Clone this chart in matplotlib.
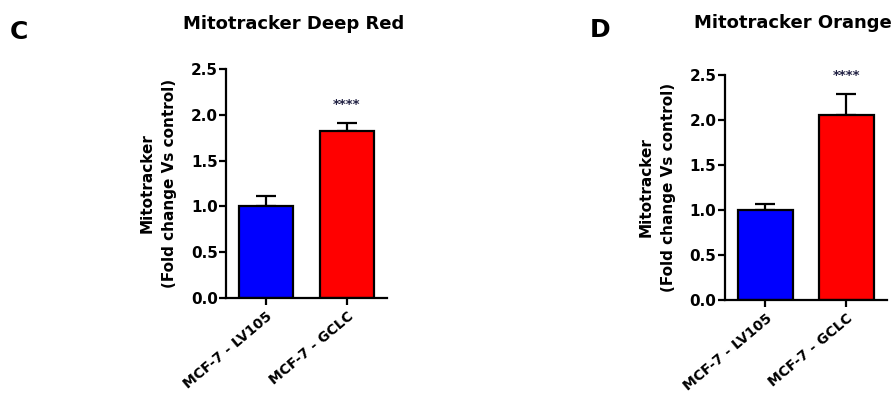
import matplotlib.pyplot as plt
import numpy as np

plt.rcParams['font.family'] = ['DejaVu Sans']
plt.rcParams['font.weight'] = 'bold'

groups = ['MCF-7 - LV105', 'MCF-7 - GCLC']
colors = ['#0000ff', '#ff0000']

deep_red_mean = [1.00, 1.82]
deep_red_err = [0.11, 0.09]
orange_mean = [1.00, 2.06]
orange_err = [0.07, 0.23]

titles = ['Mitotracker Deep Red', 'Mitotracker Orange']
letters = ['C', 'D']
signif = ['', '****']

fig = plt.figure(figsize=(8.96, 4), dpi=100)
ax_c = fig.add_axes([0.2522, 0.255, 0.1797, 0.5725])
ax_d = fig.add_axes([0.809, 0.25, 0.181, 0.5625])


def title_x(ax):
    b = ax.get_position()
    return b.x0 + 0.42 * b.width


def draw_panel(ax, means, errs, title, title_y):
    x = np.arange(len(groups))
    ax.bar(x, means, width=0.67, color=colors, edgecolor='black', linewidth=1.6, zorder=2)
    ax.errorbar(x, means, yerr=[np.zeros(len(errs)), errs], fmt='none', ecolor='black',
                elinewidth=1.6, capsize=7, capthick=1.6, zorder=1)
    for xi, m, e, s in zip(x, means, errs, signif):
        if s:
            ax.text(xi, m + e + 0.2, s, ha='center', va='center', fontsize=9.5, color='#222244')
    ax.set_xlim(-0.5, 1.5)
    ax.set_ylim(0, 2.5)
    ax.set_yticks([0.0, 0.5, 1.0, 1.5, 2.0, 2.5])
    ax.set_yticklabels(['0.0', '0.5', '1.0', '1.5', '2.0', '2.5'])
    ax.set_xticks(x)
    ax.set_xticklabels(groups, rotation=40, ha='right', rotation_mode='anchor', fontsize=10)
    for sp in ['top', 'right']:
        ax.spines[sp].set_visible(False)
    for sp in ['left', 'bottom']:
        ax.spines[sp].set_linewidth(1.6)
    ax.tick_params(width=1.6, length=5, pad=1)
    ax.tick_params(axis='y', labelsize=11)
    ax.tick_params(axis='x', pad=3)
    ax.set_ylabel('Mitotracker\n(Fold change Vs control)', fontsize=11, fontweight='bold',
                  labelpad=10, linespacing=1.6)
    fig.text(title_x(ax), title_y, title, fontsize=13, fontweight='bold', ha='center', va='center')


draw_panel(ax_c, deep_red_mean, deep_red_err, titles[0], 1 - 24 / 400)
draw_panel(ax_d, orange_mean, orange_err, titles[1], 1 - 23 / 400)

fig.text(10 / 896, 1 - 32 / 400, letters[0], fontsize=18, fontweight='bold', va='center')
fig.text(590 / 896, 1 - 30 / 400, letters[1], fontsize=18, fontweight='bold', va='center')

fig.savefig('out.png', dpi=100)
